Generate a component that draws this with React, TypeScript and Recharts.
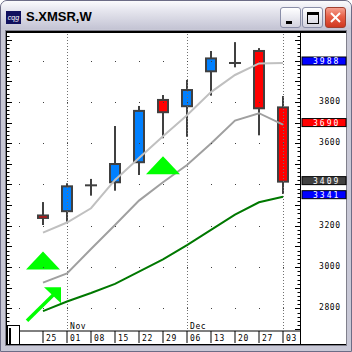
import React from 'react';
import { ComposedChart, Bar, Line, XAxis, YAxis, ReferenceLine, ReferenceDot } from 'recharts';

const weekLabels = ['25', '01', '08', '15', '22', '29', '06', '13', '20', '27', '03'];
const openVals = [3255, 3266, 3396, 3406, 3503, 3814, 3774, 3943, 3988, 4051, 3778];
const highVals = [3315, 3406, 3427, 3683, 3780, 3833, 3906, 4046, 4089, 4060, 3828];
const lowVals = [3204, 3220, 3346, 3370, 3446, 3624, 3631, 3830, 3967, 3638, 3354];
const closeVals = [3238, 3396, 3396, 3504, 3761, 3745, 3862, 4015, 3988, 3764, 3409];
const fastMA = [3167, 3216, 3285, 3422, 3528, 3633, 3735, 3847, 3930, 3986, 3988];
const midMA = [2925, 2970, 3088, 3204, 3322, 3411, 3494, 3598, 3709, 3745, 3690];
const slowMA = [2787, 2834, 2875, 2919, 2978, 3038, 3107, 3180, 3254, 3314, 3341];

const priceLabels = [2800, 3000, 3200, 3600, 3800];
const gridRows = [2800, 3000, 3200, 3400, 3600, 3800, 4000];
const minorTicks = [
  2700, 2720, 2740, 2760, 2780, 2800, 2820, 2840, 2860, 2880, 2900, 2920, 2940, 2960, 2980,
  3000, 3020, 3040, 3060, 3080, 3100, 3120, 3140, 3160, 3180, 3200, 3220, 3240, 3260, 3280,
  3300, 3320, 3340, 3360, 3380, 3400, 3420, 3440, 3460, 3480, 3500, 3520, 3540, 3560, 3580,
  3600, 3620, 3640, 3660, 3680, 3700, 3720, 3740, 3760, 3780, 3800, 3820, 3840, 3860, 3880,
  3900, 3920, 3940, 3960, 3980, 4000, 4020, 4040, 4060, 4080, 4100, 4120,
];
const monthWeeks = ['01', '06', '03'];
const monthNames = ['Nov', 'Dec', ''];
const lastValues = [3988, 3690, 3409, 3341];
const lastColors = ['#0000ff', '#ff0000', '#404040', '#0000ff'];
const signalWeeks = ['25', '29'];
const signalPrices = [3032, 3493];
const arrowWeek = '25';
const arrowPrice = 2903;

const Y_DOMAIN: [number, number] = [2691, 4138];
const MONO = 'DejaVu Sans Mono';
const WEEK_PX = 24;
const PLOT_W = 293;

const data = weekLabels.map((label, i) => ({
  label,
  open: openVals[i],
  high: highVals[i],
  low: lowVals[i],
  close: closeVals[i],
  range: [lowVals[i], highVals[i]],
  fast: fastMA[i],
  mid: midMA[i],
  slow: slowMA[i],
}));

const Candle = (props: any) => {
  const { x, y, width, height, payload } = props;
  if (x == null || y == null) return null;
  const cx = x + width / 2;
  const { open, high, low, close } = payload;
  const span = high - low || 1;
  const py = (v: number) => y + ((high - v) / span) * height;
  const up = close > open;
  const top = py(Math.max(open, close));
  const bot = py(Math.min(open, close));
  const outerH = Math.max(bot - top, 4.5);
  return (
    <g>
      <rect x={cx - 1} y={y} width={2} height={height} fill="#404040" />
      {Math.abs(open - close) < 1 ? (
        <rect x={cx - 6} y={py(open) - 1} width={12} height={2} fill="#404040" />
      ) : (
        <g>
          <rect x={cx - 6} y={top} width={12} height={outerH} fill="#404040" />
          <rect x={cx - 4} y={top + 2} width={8} height={Math.max(outerH - 4, 1)} fill={up ? '#0080ff' : '#ff0000'} />
        </g>
      )}
    </g>
  );
};

const LeftTick = (props: any) => {
  const { x, y, payload } = props;
  const major = payload.value % 100 === 0;
  const yy = Math.round(y) + 0.5;
  const dots: React.ReactNode[] = [];
  if (gridRows.includes(payload.value)) {
    for (let px = x + 12; px < x + PLOT_W; px += WEEK_PX) {
      dots.push(<rect key={px} x={Math.round(px)} y={Math.round(y)} width={1} height={1} fill="#404040" />);
    }
  }
  return (
    <g>
      <line x1={x} x2={x + (major ? 5 : 2.5)} y1={yy} y2={yy} stroke="#000" strokeWidth={1} />
      {dots}
    </g>
  );
};

const RightTick = (props: any) => {
  const { x, y, payload } = props;
  const major = payload.value % 100 === 0;
  const yy = Math.round(y) + 0.5;
  return (
    <g>
      <line x1={x} x2={x - (major ? 5 : 2.5)} y1={yy} y2={yy} stroke="#000" strokeWidth={1} />
      {priceLabels.includes(payload.value) && (
        <text x={x + 19} y={y + 1.8} fontSize={8} fontFamily={MONO} letterSpacing={0.6} fill="#000">
          {payload.value}
        </text>
      )}
    </g>
  );
};

const DateTick = (props: any) => {
  const { x, y, payload } = props;
  return (
    <text x={x + 3} y={y - 2.5} fontSize={8} fontFamily={MONO} letterSpacing={0.6} fill="#000">
      {payload.value}
    </text>
  );
};

const makeMonthShape = (name: string) => (props: any) => {
  const { x1, y1, y2 } = props;
  const xx = Math.round(x1) + 0.5;
  const bot = Math.max(y1, y2);
  const top = Math.min(y1, y2);
  return (
    <g>
      <line x1={xx} x2={xx} y1={top + 2} y2={bot} stroke="#707070" strokeWidth={1} strokeDasharray="1 2" />
      {name && (
        <text x={xx + 2.5} y={bot - 1.8} fontSize={8} fontFamily={MONO} letterSpacing={0.6} fill="#000">
          {name}
        </text>
      )}
    </g>
  );
};

const makeValueBox = (value: number, color: string) => (props: any) => {
  const { x1, x2, y1 } = props;
  const xr = Math.max(x1, x2);
  const cy = y1 - 2;
  return (
    <g>
      <rect x={xr + 2} y={cy - 4} width={44} height={8} fill={color} stroke="#000" strokeWidth={1} />
      <text x={xr + 13} y={cy + 3} fontSize={8} fontFamily={MONO} letterSpacing={2} fill="#fff">
        {value}
      </text>
    </g>
  );
};

const triangleShape = (props: any) => {
  const { cx, cy } = props;
  if (cx == null) return null;
  return <polygon points={`${cx - 17},${cy + 9} ${cx + 17},${cy + 9} ${cx},${cy - 9}`} fill="#00ff00" />;
};

const arrowShape = (props: any) => {
  const { cx, cy } = props;
  if (cx == null) return null;
  return (
    <g>
      <line x1={cx - 16} y1={cy + 33.5} x2={cx + 12} y2={cy + 6} stroke="#00ff00" strokeWidth={3.5} />
      <polygon points={`${cx + 1},${cy} ${cx + 18},${cy} ${cx + 18},${cy + 16}`} fill="#00ff00" />
    </g>
  );
};

const abs = (l: number, t: number, w: number, h: number, extra: React.CSSProperties = {}): React.CSSProperties => ({
  position: 'absolute',
  left: l,
  top: t,
  width: w,
  height: h,
  boxSizing: 'border-box',
  ...extra,
});

const btnBase: React.CSSProperties = {
  border: '1px solid #8a8ea8',
  borderRadius: 3,
  background: 'linear-gradient(to bottom, #ffffff 0%, #ececf2 45%, #d2d2de 100%)',
};

export default function App() {
  return (
    <div style={abs(0, 0, 352, 352, { overflow: 'hidden' })}>
      {/* window frame */}
      <div style={abs(0, 0, 352, 352, { background: '#c8c8d6', border: '1px solid #6c6c86', borderRadius: '7px 7px 0 0' })} />
      <div
        style={abs(1, 1, 350, 28, {
          borderRadius: '6px 6px 0 0',
          background: 'linear-gradient(to bottom, #fbfbfd 0%, #e8e8f0 30%, #d6d6e2 65%, #c4c4d4 100%)',
        })}
      />
      <div style={abs(6, 11, 15, 13, { background: '#10105e', color: '#fff', fontSize: 7, fontStyle: 'italic', fontFamily: 'Liberation Sans', lineHeight: '13px', textAlign: 'center' })}>
        cqg
      </div>
      <div style={abs(26, 10, 120, 14, { fontFamily: 'Liberation Sans', fontWeight: 'bold', fontSize: 13, lineHeight: '13px', color: '#000', whiteSpace: 'nowrap' })}>
        S.XMSR,W
      </div>
      <div style={abs(280, 7, 21, 21, btnBase)}>
        <div style={abs(5, 13, 6, 3, { background: '#000' })} />
      </div>
      <div style={abs(302, 7, 21, 21, btnBase)}>
        <div style={abs(4, 4, 12, 12, { borderTop: '3px solid #000', borderLeft: '1px solid #000', borderRight: '1px solid #000', borderBottom: '1px solid #000' })} />
      </div>
      <div style={abs(325, 7, 21, 21, { border: '1px solid #a04030', borderRadius: 3, background: 'linear-gradient(to bottom, #f4a090 0%, #e86048 45%, #d03820 100%)' })}>
        <svg width={19} height={19} style={{ position: 'absolute', left: 0, top: 0 }}>
          <line x1={5} y1={5} x2={14} y2={14} stroke="#fff" strokeWidth={2} />
          <line x1={14} y1={5} x2={5} y2={14} stroke="#fff" strokeWidth={2} />
        </svg>
      </div>
      {/* client area */}
      <div style={abs(5, 30, 342, 316, { background: '#80808c' })} />
      <div style={abs(6, 31, 340, 314, { background: '#000' })} />
      <div style={abs(7, 33, 339, 311, { background: '#fff' })} />

      <ComposedChart
        width={352}
        height={352}
        data={data}
        margin={{ top: 32, right: 0, bottom: 0, left: 0 }}
        style={{ position: 'absolute', left: 0, top: 0 }}
      >
        <XAxis
          dataKey="label"
          height={21}
          padding={{ left: 24, right: 5 }}
          interval={0}
          axisLine={{ stroke: '#000' }}
          tickLine={{ stroke: '#000' }}
          tickSize={12}
          tickMargin={0}
          tick={<DateTick />}
        />
        <YAxis
          yAxisId="l"
          orientation="left"
          width={7}
          type="number"
          domain={Y_DOMAIN}
          allowDataOverflow
          ticks={minorTicks}
          interval={0}
          axisLine={false}
          tickLine={false}
          tickSize={0}
          tickMargin={0}
          tick={<LeftTick />}
        />
        <YAxis
          yAxisId="r"
          orientation="right"
          width={52}
          type="number"
          domain={Y_DOMAIN}
          allowDataOverflow
          ticks={minorTicks}
          interval={0}
          axisLine={false}
          tickLine={false}
          tickSize={0}
          tickMargin={0}
          tick={<RightTick />}
        />
        {monthWeeks.map((w, i) => (
          <ReferenceLine key={'m' + w} yAxisId="l" x={w} shape={makeMonthShape(monthNames[i])} />
        ))}
        <Bar yAxisId="l" dataKey="range" barSize={12} shape={<Candle />} isAnimationActive={false} />
        <Line yAxisId="l" type="linear" dataKey="fast" stroke="#c0c0c0" strokeWidth={2} dot={false} isAnimationActive={false} />
        <Line yAxisId="l" type="linear" dataKey="mid" stroke="#a0a0a0" strokeWidth={2} dot={false} isAnimationActive={false} />
        <Line yAxisId="l" type="linear" dataKey="slow" stroke="#007800" strokeWidth={2} dot={false} isAnimationActive={false} />
        {signalWeeks.map((w, i) => (
          <ReferenceDot key={'s' + w} yAxisId="l" x={w} y={signalPrices[i]} shape={triangleShape} />
        ))}
        <ReferenceDot yAxisId="l" x={arrowWeek} y={arrowPrice} shape={arrowShape} />
        {lastValues.map((v, i) => (
          <ReferenceLine key={'v' + v} yAxisId="r" y={v} shape={makeValueBox(v, lastColors[i])} />
        ))}
      </ComposedChart>

      {/* plot frame lines */}
      <div style={abs(300, 32, 1, 313, { background: '#000' })} />
      <div style={abs(7, 344, 294, 1, { background: '#000' })} />
      <div style={abs(7, 325, 13, 20, { background: '#fff', border: '1px solid #000' })}>
        <div style={abs(1, 2, 2, 16, { background: '#000' })} />
      </div>
    </div>
  );
}
